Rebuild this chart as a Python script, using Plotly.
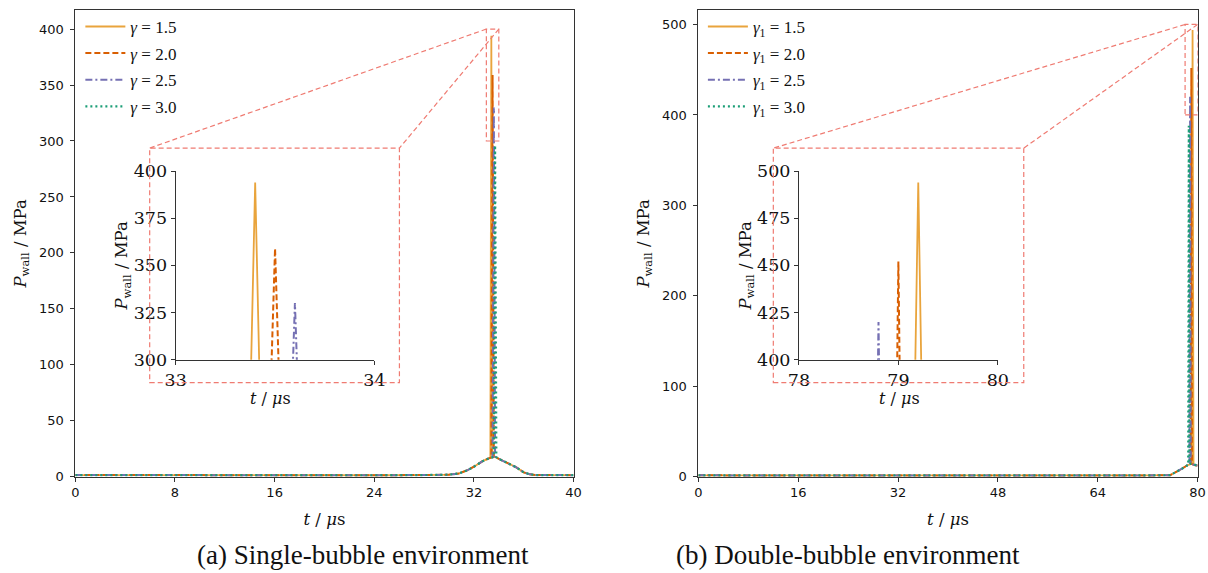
import plotly.graph_objects as go

# ---------------- data ----------------
gammas = ["1.5", "2.0", "2.5", "3.0"]

# (a) single-bubble: shared background curve (time in us, pressure in MPa)
base_t_a = [0, 4, 8, 12, 16, 20, 24, 28, 30.0, 30.8, 31.5, 32.0, 32.7, 33.2, 33.65,
            34.2, 34.8, 35.4, 36.0, 36.5, 37.0, 38.0, 40.0]
base_p_a = [1.6, 1.5, 1.5, 1.4, 1.4, 1.3, 1.4, 1.6, 1.9, 3.0, 6.0, 9.0, 14.0, 16.5, 18.0,
            15.0, 12.0, 8.5, 4.0, 2.2, 1.6, 1.5, 1.5]
# impact spikes for each gamma
spike_t_a = {"1.5": [33.32, 33.40, 33.48], "2.0": [33.40, 33.50, 33.60],
             "2.5": [33.50, 33.60, 33.70], "3.0": [33.60, 33.70, 33.80]}
spike_p_a = {"1.5": [17.0, 394, 17.5], "2.0": [17.2, 359, 17.8],
             "2.5": [17.5, 330, 18.0], "3.0": [17.8, 296, 17.5]}

# (b) double-bubble
base_t_b = [0, 8, 16, 24, 32, 40, 48, 56, 64, 72, 75.6, 76.5, 77.5, 78.3, 78.85, 79.5, 80]
base_p_b = [1.6, 1.5, 1.5, 1.4, 1.4, 1.4, 1.3, 1.4, 1.4, 1.5, 1.8, 5.0, 9.0, 12.5, 14.5, 13.0, 12.5]
spike_t_b = {"1.5": [79.05, 79.20, 79.35], "2.0": [78.90, 79.00, 79.10],
             "2.5": [78.70, 78.80, 78.90], "3.0": [78.50, 78.60, 78.70]}
spike_p_b = {"1.5": [14.4, 494, 13.8], "2.0": [14.5, 452, 14.2],
             "2.5": [14.0, 420, 14.5], "3.0": [13.3, 388, 14.0]}

xticks_a = [0, 8, 16, 24, 32, 40]
yticks_a = [0, 50, 100, 150, 200, 250, 300, 350, 400]
xticks_b = [0, 16, 32, 48, 64, 80]
yticks_b = [0, 100, 200, 300, 400, 500]
inset_xticks_a = [33, 34]
inset_xticks_b = [78, 79, 80]
inset_yticks_a = [300, 325, 350, 375, 400]
inset_yticks_b = [400, 425, 450, 475, 500]

# ---------------- styles ----------------
colors = {"1.5": "#e9a43c", "2.0": "#d95f02", "2.5": "#7570b3", "3.0": "#1b9e77"}
dashes = {"1.5": "solid", "2.0": "6px,3px", "2.5": "7px,3px,2px,3px", "3.0": "2px,3px"}
widths = {"1.5": 1.8, "2.0": 2.0, "2.5": 2.0, "3.0": 2.2}
ZC = "#ef7b72"
SERIF = "Liberation Serif"


def merge(bt, bp, st, sp):
    pts = [(t, p) for t, p in zip(bt, bp) if t < st[0] or t > st[-1]]
    pts += list(zip(st, sp))
    pts.sort()
    return [a for a, _ in pts], [b for _, b in pts]


fig = go.Figure()

for g in gammas:
    ta, pa = merge(base_t_a, base_p_a, spike_t_a[g], spike_p_a[g])
    tb, pb = merge(base_t_b, base_p_b, spike_t_b[g], spike_p_b[g])
    line = dict(color=colors[g], dash=dashes[g], width=widths[g])
    fig.add_trace(go.Scatter(x=ta, y=pa, mode="lines", line=line, xaxis="x", yaxis="y",
                             name=f"<i>γ</i> = {g}", legendgroup="a" + g, legend="legend"))
    fig.add_trace(go.Scatter(x=tb, y=pb, mode="lines", line=line, xaxis="x2", yaxis="y2",
                             name=f"<i>γ</i><sub>1</sub> = {g}", legendgroup="b" + g, legend="legend2"))
    fig.add_trace(go.Scatter(x=ta, y=pa, mode="lines", line=line, xaxis="x3", yaxis="y3",
                             showlegend=False, hoverinfo="skip"))
    fig.add_trace(go.Scatter(x=tb, y=pb, mode="lines", line=line, xaxis="x4", yaxis="y4",
                             showlegend=False, hoverinfo="skip"))

# layout helpers: the captured page area is slightly larger than the figure target,
# so map target picture pixels to figure paper coordinates
OFF = 8
SX, SY = 1208 / 1229, 573 / 593
FW, FH = 1213, 577


def PX(x):
    return min(1.0, max(0.0, (x / SX - OFF) / FW))


def PYu(y):
    return 1 - (y / SY - OFF) / FH


def PY(y):
    return min(1.0, max(0.0, PYu(y)))


dom_ax = [PX(72.3), PX(571)]
dom_bx = [PX(696), PX(1195.7)]
dom_y = [PY(475), PY(4.5)]
dom_iax = [PX(172.7), PX(371.7)]
dom_ibx = [PX(796.7), PX(995.7)]
dom_iy = [PY(357.7), PY(169)]
range_ax, range_ay = [0, 40], [0, 417]
range_bx, range_by = [0, 80], [0, 516]

tickfont = dict(family="DejaVu Sans", size=13, color="#111")
inset_tickfont = dict(family="DejaVu Serif", size=17.5, color="#111")
titlefont = dict(family="DejaVu Serif", size=16.5, color="#111")
inset_xtitlefont = dict(family="DejaVu Serif", size=16, color="#111")

ytitle = "<i>P</i><sub>wall</sub> / MPa"
xtitle = "<i>t</i> / <i>μ</i>s"

main_axis = dict(showline=True, mirror=True, linecolor="#333", linewidth=1.1, ticks="outside",
                 ticklen=4, tickcolor="#333", showgrid=False, zeroline=False, tickfont=tickfont)
inset_axis = dict(showline=True, mirror=False, linecolor="#333", linewidth=1.1, ticks="outside",
                  ticklen=4, tickcolor="#333", showgrid=False, zeroline=False, tickfont=inset_tickfont)

legend_common = dict(xanchor="left", yanchor="top", bgcolor="rgba(0,0,0,0)",
                     font=dict(family=SERIF, size=17, color="#111"), traceorder="grouped",
                     tracegroupgap=1.5, itemwidth=40)

fig.update_layout(
    width=FW, height=FH, margin=dict(l=0, r=0, t=0, b=0),
    paper_bgcolor="white", plot_bgcolor="white",
    xaxis=dict(domain=dom_ax, range=range_ax, tickvals=xticks_a, anchor="y",
               title=dict(text=xtitle, font=titlefont, standoff=13), **main_axis),
    yaxis=dict(domain=dom_y, range=range_ay, tickvals=yticks_a, anchor="x", ticklabelstandoff=4,
               title=dict(text=ytitle, font=titlefont, standoff=8), **main_axis),
    xaxis2=dict(domain=dom_bx, range=range_bx, tickvals=xticks_b, anchor="y2",
                title=dict(text=xtitle, font=titlefont, standoff=13), **main_axis),
    yaxis2=dict(domain=dom_y, range=range_by, tickvals=yticks_b, anchor="x2", ticklabelstandoff=4,
                title=dict(text=ytitle, font=titlefont, standoff=8), **main_axis),
    xaxis3=dict(domain=dom_iax, range=[33, 34], tickvals=inset_xticks_a, anchor="y3", **inset_axis),
    yaxis3=dict(domain=dom_iy, range=[300, 400], tickvals=inset_yticks_a, anchor="x3",
                title=dict(text=ytitle, font=titlefont, standoff=0), **inset_axis),
    xaxis4=dict(domain=dom_ibx, range=[78, 80], tickvals=inset_xticks_b, anchor="y4", **inset_axis),
    yaxis4=dict(domain=dom_iy, range=[400, 500], tickvals=inset_yticks_b, anchor="x4",
                title=dict(text=ytitle, font=titlefont, standoff=0), **inset_axis),
    legend=dict(x=PX(77.3), y=PYu(6.7), **legend_common),
    legend2=dict(x=PX(700.5), y=PYu(6.7), **legend_common),
    showlegend=True,
)


def to_paper(v, rng, dom):
    return dom[0] + (v - rng[0]) / (rng[1] - rng[0]) * (dom[1] - dom[0])


zoom_line = dict(color=ZC, width=1.2, dash="5px,3px")
shapes = []
# zoom regions and inset frames
for xr, yr, rect, box_x, dx, dy in [
        ("x", "y", (33, 34, 300, 400), [PX(146.7), PX(396.7)], dom_ax, (range_ax, range_ay)),
        ("x2", "y2", (78, 80, 400, 500), [PX(771), PX(1021.7)], dom_bx, (range_bx, range_by))]:
    x0, x1, y0, y1 = rect
    shapes.append(dict(type="rect", xref=xr, yref=yr, x0=x0, x1=x1, y0=y0, y1=y1,
                       line=zoom_line, layer="above"))
    by0, by1 = PY(380.7), PY(146)
    shapes.append(dict(type="rect", xref="paper", yref="paper", x0=box_x[0], x1=box_x[1],
                       y0=by0, y1=by1, line=zoom_line, layer="above"))
    rx, ry = dy
    tlx = to_paper(x0, rx, dx)
    trx = to_paper(x1, rx, dx)
    ty = to_paper(y1, ry, dom_y)
    shapes.append(dict(type="line", xref="paper", yref="paper", x0=tlx, y0=ty,
                       x1=box_x[0], y1=by1, line=zoom_line, layer="above"))
    shapes.append(dict(type="line", xref="paper", yref="paper", x0=trx, y0=ty,
                       x1=box_x[1], y1=by1, line=zoom_line, layer="above"))
fig.update_layout(shapes=shapes)

# inset x-axis titles, sitting just under the dashed inset frames
for xc in (268, 897):
    fig.add_annotation(x=PX(xc), y=PY(385), xref="paper", yref="paper", showarrow=False,
                       xanchor="center", yanchor="top", text=xtitle, font=inset_xtitlefont)

capfont = dict(family=SERIF, size=27, color="#111")
fig.add_annotation(x=PX(360), y=PY(553), xref="paper", yref="paper", showarrow=False,
                   xanchor="center", yanchor="middle",
                   text="(a) Single-bubble environment", font=capfont)
fig.add_annotation(x=PX(846), y=PY(553), xref="paper", yref="paper", showarrow=False,
                   xanchor="center", yanchor="middle",
                   text="(b) Double-bubble environment", font=capfont)

fig.write_html("out.html")
